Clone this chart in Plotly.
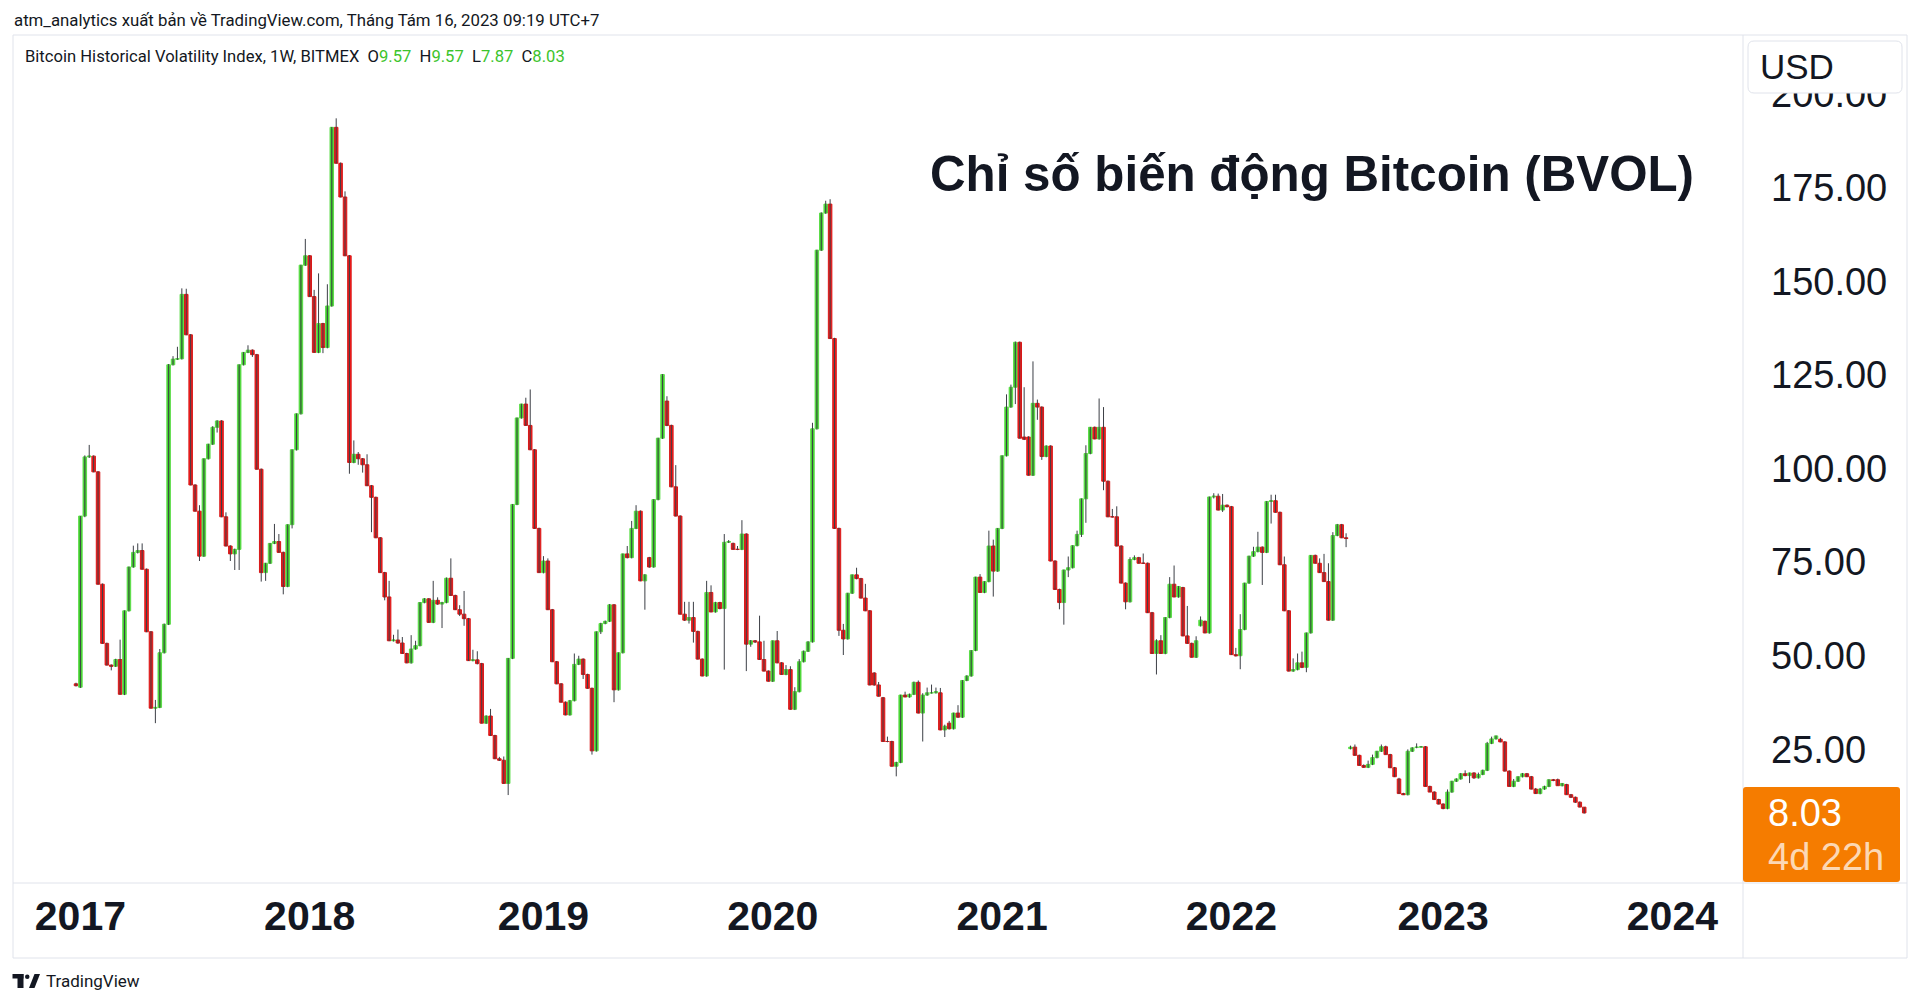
import pandas as pd
import plotly.graph_objects as go

# ---------------- data (weekly BVOL candles) ----------------
open_ = [
    42.5, 41.6, 87.3, 103.1, 103.3, 99.1, 69.1, 53.3, 47.5, 47.2,
    49.0, 39.7, 62.0, 73.7, 77.6, 78.1, 73.1, 56.4, 36.0, 36.2,
    50.8, 58.4, 127.7, 129.2, 129.3, 146.5, 135.7, 95.6, 88.6, 76.6,
    102.6, 106.5, 111.0, 112.7, 87.1, 79.3, 77.2, 78.4, 127.7, 131.0,
    131.6, 130.4, 99.8, 72.2, 74.7, 80.0, 80.5, 77.6, 68.5, 85.0,
    105.0, 114.6, 154.3, 156.8, 145.9, 131.0, 138.7, 132.3, 143.4, 191.1,
    181.5, 172.5, 156.8, 101.6, 103.8, 102.6, 101.0, 95.4, 92.3, 81.5,
    72.2, 65.7, 54.0, 54.2, 53.4, 50.6, 48.1, 51.8, 52.7, 64.2,
    65.2, 58.9, 64.8, 63.8, 64.2, 70.7, 66.1, 62.3, 61.1, 59.9,
    48.7, 48.9, 47.9, 32.0, 33.9, 28.7, 22.5, 22.1, 15.9, 49.3,
    90.4, 113.5, 117.2, 111.5, 105.0, 84.0, 72.2, 75.3, 62.3, 48.4,
    42.5, 37.6, 34.2, 38.0, 47.7, 49.1, 45.0, 41.3, 24.6, 56.4,
    58.6, 59.2, 63.6, 40.9, 50.8, 77.2, 76.2, 84.0, 88.6, 70.0,
    76.2, 73.7, 91.7, 108.1, 118.0, 111.5, 95.1, 87.3, 61.1, 59.5,
    60.2, 56.5, 49.1, 44.6, 66.9, 61.7, 64.2, 62.6, 80.3, 80.0,
    78.4, 78.4, 82.5, 53.1, 54.0, 53.7, 49.0, 45.9, 43.2, 54.0,
    48.1, 45.0, 46.3, 35.7, 40.4, 48.4, 51.2, 53.7, 110.6, 158.3,
    168.2, 170.6, 134.7, 84.0, 56.8, 54.5, 66.7, 71.6, 70.6, 65.4,
    62.0, 45.4, 42.2, 38.8, 27.1, 27.1, 20.5, 21.5, 39.5, 39.0,
    39.7, 42.9, 34.7, 39.5, 40.1, 40.1, 40.1, 30.2, 32.0, 30.5,
    34.7, 33.6, 43.4, 44.6, 51.4, 71.0, 66.9, 69.8, 79.3, 72.6,
    84.0, 103.4, 116.4, 121.7, 133.7, 108.4, 108.4, 98.2, 117.4, 116.4,
    103.2, 106.0, 75.3, 67.7, 64.2, 72.9, 73.5, 79.4, 82.4, 91.9,
    104.0, 111.0, 107.9, 111.0, 96.6, 87.1, 87.1, 79.3, 69.4, 64.4,
    75.7, 76.2, 74.7, 74.7, 61.5, 50.6, 54.0, 50.6, 60.2, 69.1,
    65.7, 68.2, 55.3, 53.3, 49.6, 58.0, 59.2, 56.1, 92.4, 92.6,
    88.9, 90.2, 89.8, 50.3, 50.0, 57.0, 69.4, 76.6, 77.8, 79.0,
    77.6, 91.2, 91.4, 88.3, 74.3, 62.0, 45.9, 46.3, 48.1, 46.9,
    56.1, 76.8, 74.7, 72.2, 69.8, 59.5, 82.1, 85.0, 81.5, 25.2,
    25.6, 23.4, 20.7, 20.2, 21.0, 22.8, 24.5, 25.7, 23.6, 20.1,
    17.1, 13.2, 12.9, 24.5, 25.5, 25.6, 25.7, 15.1, 13.6, 11.6,
    10.4, 9.2, 13.6, 16.5, 17.1, 18.5, 18.0, 18.7, 17.4, 18.3,
    19.4, 26.6, 27.8, 27.7, 27.0, 19.2, 15.1, 16.5, 17.7, 18.5,
    17.7, 14.4, 13.2, 14.4, 15.1, 16.9, 16.9, 15.3, 15.6, 12.9,
    12.2, 10.9, 9.57,
]
high = [
    42.8, 87.3, 103.5, 106.3, 103.5, 99.3, 69.3, 53.5, 47.7, 49.2,
    54.3, 62.1, 73.8, 79.4, 80.0, 80.0, 73.3, 56.6, 38.2, 51.8,
    58.6, 127.9, 130.0, 132.5, 148.1, 148.0, 135.9, 95.8, 90.2, 102.7,
    106.6, 111.3, 112.9, 112.9, 88.3, 79.5, 78.6, 127.8, 131.1, 132.9,
    131.8, 130.6, 100.0, 74.8, 80.1, 85.2, 82.5, 77.8, 85.1, 105.1,
    114.7, 154.4, 161.3, 157.0, 147.7, 152.1, 138.9, 149.2, 191.2, 193.5,
    181.7, 174.0, 157.0, 107.5, 104.4, 102.8, 103.8, 95.6, 92.5, 81.7,
    72.4, 70.0, 55.6, 57.0, 55.0, 50.8, 55.5, 54.0, 64.3, 65.4,
    65.4, 70.0, 65.6, 64.4, 70.9, 76.0, 66.3, 63.5, 67.3, 60.1,
    51.6, 51.2, 48.1, 34.1, 35.8, 28.9, 23.0, 23.1, 49.4, 90.5,
    113.6, 117.3, 118.9, 121.1, 105.2, 84.2, 76.6, 76.0, 62.5, 48.6,
    42.7, 37.8, 38.2, 50.6, 50.0, 49.3, 45.2, 41.5, 56.5, 58.8,
    59.4, 63.8, 63.8, 50.9, 77.3, 79.3, 86.0, 90.2, 88.8, 71.8,
    76.4, 91.8, 108.2, 125.2, 119.3, 111.7, 100.9, 87.5, 64.4, 64.4,
    64.4, 56.7, 49.3, 70.0, 68.8, 64.4, 64.4, 82.5, 80.9, 80.2,
    79.3, 86.2, 82.7, 54.2, 54.2, 60.7, 54.0, 46.1, 54.1, 56.6,
    48.3, 47.5, 47.2, 41.6, 49.1, 51.4, 53.9, 112.2, 158.4, 168.4,
    171.5, 171.9, 134.9, 84.2, 58.5, 66.8, 71.7, 73.5, 70.8, 69.2,
    62.2, 45.6, 43.0, 39.0, 28.4, 27.3, 21.7, 39.6, 40.4, 39.9,
    43.1, 43.4, 40.0, 41.5, 42.3, 41.5, 41.4, 31.6, 32.6, 34.8,
    36.8, 43.5, 44.8, 51.5, 71.1, 71.8, 69.9, 83.4, 81.0, 84.1,
    103.5, 119.8, 122.4, 133.9, 133.9, 121.7, 108.6, 128.6, 118.4, 116.6,
    106.2, 106.2, 75.5, 67.9, 73.0, 76.5, 79.5, 83.4, 92.0, 106.2,
    111.1, 111.2, 118.7, 116.4, 96.8, 89.2, 89.9, 79.5, 69.6, 76.3,
    76.8, 76.4, 77.3, 74.9, 61.7, 54.4, 55.5, 60.3, 71.0, 74.1,
    68.6, 68.4, 63.3, 53.5, 55.2, 60.5, 59.4, 92.5, 93.4, 93.3,
    93.2, 90.4, 90.0, 52.1, 61.1, 69.5, 76.7, 79.1, 83.1, 79.2,
    91.3, 93.0, 93.0, 88.5, 76.5, 62.2, 49.3, 50.6, 51.1, 56.2,
    76.9, 77.0, 76.0, 77.2, 74.7, 83.0, 85.2, 85.2, 82.7, 26.0,
    26.3, 23.6, 21.0, 22.0, 23.6, 24.6, 26.3, 26.0, 23.8, 20.3,
    17.4, 13.4, 25.0, 25.6, 26.6, 25.9, 25.9, 15.3, 13.8, 11.8,
    10.6, 14.3, 16.6, 17.3, 18.7, 19.4, 18.8, 18.9, 18.8, 19.6,
    27.0, 28.4, 28.7, 28.1, 27.2, 19.4, 17.1, 17.8, 18.7, 18.7,
    17.9, 14.7, 14.7, 15.3, 17.0, 17.1, 17.2, 16.0, 15.8, 13.1,
    12.4, 11.1, 9.57,
]
low = [
    41.8, 41.4, 87.0, 102.8, 99.0, 69.0, 53.2, 47.4, 46.1, 47.0,
    39.6, 39.5, 61.8, 73.5, 77.3, 73.0, 56.3, 35.9, 32.0, 36.0,
    50.6, 58.2, 127.5, 129.0, 129.1, 135.6, 95.5, 88.5, 75.3, 76.4,
    102.4, 106.3, 109.6, 87.0, 79.2, 75.3, 72.9, 72.9, 127.5, 130.8,
    129.8, 99.7, 69.8, 70.0, 74.5, 79.8, 77.5, 66.4, 68.3, 84.0,
    104.8, 114.4, 154.1, 145.8, 130.9, 130.8, 130.8, 132.1, 143.2, 181.4,
    172.4, 156.7, 98.6, 101.4, 101.0, 98.9, 95.3, 83.0, 81.4, 72.1,
    64.8, 53.9, 53.8, 53.2, 50.5, 48.0, 47.9, 51.6, 52.5, 64.0,
    58.8, 58.7, 63.6, 57.4, 64.0, 66.0, 62.2, 60.6, 58.0, 48.6,
    48.5, 47.7, 31.9, 31.8, 28.6, 22.4, 21.9, 15.8, 12.8, 49.1,
    90.2, 113.3, 111.4, 104.9, 83.9, 72.1, 72.0, 62.2, 48.3, 42.4,
    37.5, 34.1, 34.0, 37.8, 47.5, 43.8, 41.2, 23.6, 24.4, 55.8,
    58.4, 59.0, 37.6, 40.7, 50.6, 76.0, 76.0, 83.8, 69.9, 62.3,
    73.5, 73.5, 91.5, 107.9, 111.3, 95.0, 87.2, 61.0, 59.3, 58.6,
    53.5, 49.0, 44.5, 44.4, 61.6, 61.5, 62.4, 46.3, 80.1, 78.3,
    78.2, 78.2, 45.9, 52.4, 53.4, 48.9, 45.8, 43.1, 43.0, 48.0,
    44.9, 44.8, 35.6, 35.5, 40.2, 48.2, 51.0, 53.5, 110.4, 158.1,
    168.0, 134.6, 83.9, 55.3, 50.2, 54.3, 66.5, 70.4, 65.3, 61.9,
    42.1, 42.0, 39.1, 27.0, 26.9, 20.4, 17.8, 21.3, 38.9, 38.8,
    39.5, 34.6, 27.1, 39.3, 39.9, 39.9, 30.1, 28.3, 30.3, 30.3,
    33.4, 33.4, 43.2, 44.4, 51.2, 66.8, 66.7, 69.6, 65.8, 72.4,
    83.8, 103.2, 116.2, 117.2, 108.0, 107.6, 98.1, 98.0, 113.0, 102.3,
    103.0, 75.2, 67.6, 62.4, 58.3, 71.0, 73.3, 79.2, 81.7, 85.5,
    103.8, 107.8, 107.7, 94.2, 87.0, 86.9, 79.2, 69.3, 62.4, 64.2,
    75.5, 74.6, 74.5, 61.4, 50.5, 45.0, 50.5, 50.4, 60.0, 65.6,
    65.5, 55.2, 53.2, 49.5, 49.4, 57.8, 56.0, 55.9, 92.0, 88.8,
    88.4, 89.6, 50.2, 49.8, 46.4, 56.8, 69.2, 76.4, 77.6, 68.9,
    77.4, 85.3, 88.2, 74.2, 61.9, 45.8, 45.7, 46.1, 46.7, 45.6,
    55.9, 74.6, 72.1, 69.7, 59.4, 59.3, 81.9, 81.4, 79.0, 25.0,
    23.3, 20.7, 20.1, 20.0, 20.8, 22.6, 24.3, 23.6, 20.0, 17.6,
    13.1, 12.8, 12.7, 24.3, 25.3, 25.5, 15.1, 13.6, 11.5, 10.3,
    9.0, 9.0, 13.4, 16.3, 16.9, 17.8, 16.0, 17.1, 17.2, 18.1,
    19.2, 26.4, 27.6, 26.9, 19.1, 15.1, 14.9, 16.3, 17.5, 17.6,
    14.3, 13.1, 13.0, 14.2, 14.9, 16.5, 15.3, 15.1, 12.9, 12.0,
    10.7, 9.5, 7.87,
]
close = [
    42.0, 87.3, 103.1, 103.3, 99.1, 69.1, 53.3, 47.5, 47.2, 49.0,
    39.7, 62.0, 73.7, 77.6, 78.1, 73.1, 56.4, 36.0, 36.2, 50.8,
    58.4, 127.7, 129.2, 129.3, 146.5, 135.7, 95.6, 88.6, 76.6, 102.6,
    106.5, 111.0, 112.7, 87.1, 79.3, 77.2, 78.4, 127.7, 131.0, 131.6,
    130.4, 99.8, 72.2, 74.7, 80.0, 80.5, 77.6, 68.5, 85.0, 105.0,
    114.6, 154.3, 156.8, 145.9, 131.0, 138.7, 132.3, 143.4, 191.1, 181.5,
    172.5, 156.8, 101.6, 103.8, 102.6, 101.0, 95.4, 92.3, 81.5, 72.2,
    65.7, 54.0, 54.2, 53.4, 50.6, 48.1, 51.8, 52.7, 64.2, 65.2,
    58.9, 64.8, 63.8, 64.2, 70.7, 66.1, 62.3, 61.1, 59.9, 48.7,
    48.9, 47.9, 32.0, 33.9, 28.7, 22.5, 22.1, 15.9, 49.3, 90.4,
    113.5, 117.2, 111.5, 105.0, 84.0, 72.2, 75.3, 62.3, 48.4, 42.5,
    37.6, 34.2, 38.0, 47.7, 49.1, 45.0, 41.3, 24.6, 56.4, 58.6,
    59.2, 63.6, 40.9, 50.8, 77.2, 76.2, 84.0, 88.6, 70.0, 71.6,
    73.7, 91.7, 108.1, 125.1, 111.5, 95.1, 87.3, 61.1, 59.5, 60.2,
    56.5, 49.1, 44.6, 66.9, 61.7, 64.2, 62.6, 80.3, 80.5, 78.4,
    78.4, 82.5, 53.1, 54.0, 53.7, 49.0, 45.9, 43.2, 54.0, 48.1,
    45.0, 46.3, 35.7, 40.4, 48.4, 51.2, 53.7, 110.6, 158.3, 168.2,
    170.6, 134.7, 84.0, 56.8, 54.5, 66.7, 71.6, 70.6, 65.4, 62.0,
    42.2, 42.2, 39.2, 27.1, 27.1, 20.5, 21.5, 39.5, 39.0, 39.7,
    42.9, 34.7, 39.5, 40.1, 40.1, 40.4, 30.2, 31.2, 30.5, 34.7,
    33.6, 43.4, 44.6, 51.4, 71.0, 66.9, 69.8, 79.3, 72.6, 84.0,
    103.4, 116.4, 121.7, 133.7, 108.1, 107.8, 98.2, 117.4, 116.4, 103.2,
    106.0, 75.3, 67.7, 64.2, 72.9, 73.5, 79.4, 82.4, 91.9, 104.0,
    111.0, 107.9, 111.0, 96.6, 87.1, 87.1, 79.3, 69.4, 64.4, 75.7,
    76.2, 74.7, 74.7, 61.5, 50.6, 54.0, 50.6, 60.2, 69.1, 65.7,
    68.5, 55.3, 53.3, 49.6, 54.0, 59.5, 56.1, 92.4, 92.6, 88.9,
    90.2, 89.8, 50.3, 50.0, 57.0, 69.4, 76.6, 77.8, 79.0, 77.6,
    91.2, 91.4, 88.3, 74.3, 62.0, 45.9, 46.3, 48.1, 46.9, 56.1,
    76.8, 74.7, 72.2, 69.8, 59.5, 82.1, 85.0, 81.5, 81.3, 25.6,
    23.4, 20.7, 20.2, 21.0, 22.8, 24.5, 25.7, 23.6, 20.1, 17.7,
    13.2, 12.9, 24.5, 25.4, 25.6, 25.7, 15.1, 13.6, 11.6, 10.4,
    9.2, 13.6, 16.5, 17.1, 18.5, 18.0, 18.7, 17.4, 18.3, 19.4,
    26.6, 27.8, 28.6, 27.0, 19.2, 15.1, 16.5, 17.7, 18.5, 17.7,
    14.4, 13.2, 14.4, 15.1, 16.9, 16.7, 15.3, 15.9, 12.9, 12.2,
    10.9, 9.6, 8.03,
]

year_tick_bars = [1, 53, 106, 158, 210, 262, 310, 362]
year_labels = ["2017", "2018", "2019", "2020", "2021", "2022", "2023", "2024"]
price_ticks = [25, 50, 75, 100, 125, 150, 175, 200]

assert len(open_) == len(high) == len(low) == len(close) == 343

# week dates (weekly bars; 4 weeks missing in July 2022)
week_dates = (list(pd.date_range("2016-12-26", periods=289, freq="7D"))
              + list(pd.date_range("2022-08-08", periods=54, freq="7D")))
bar_index = list(range(len(close)))
date_text = [d.strftime("%Y-%m-%d") for d in week_dates]

# ---------------- geometry / styling ----------------
OFF = 8                                   # page body margin of the html page
W, H = 1920 - OFF, 1004 - OFF
# plot area, expressed in reference-picture pixels
RL, RR, RT, RB = 14, 1743, 35, 883
PL, PR, PT, PB = RL - OFF, RR - OFF, RT - OFF, RB - OFF

UP, UP_EDGE = "#42d22d", "#5cdc49"
DOWN, DOWN_EDGE = "#f21c1c", "#d81818"
WICK = "#3c3f46"
TXT = "#131722"
BORDER = "#e0e3eb"


def px(x):
    """reference x pixel -> paper"""
    return (x - RL) / (RR - RL)


def py(y):
    """reference y pixel -> paper"""
    return (RB - y) / (RB - RT)


fig = go.Figure()

# wicks
wx, wy = [], []
for i, (h, l) in enumerate(zip(high, low)):
    wx += [i, i, None]
    wy += [l, h, None]
fig.add_trace(go.Scatter(x=wx, y=wy, mode="lines", line=dict(color=WICK, width=1),
                         hoverinfo="skip", showlegend=False))

# bodies
fig.add_trace(go.Candlestick(
    x=bar_index, open=open_, close=close,
    high=[max(o, c) for o, c in zip(open_, close)],
    low=[min(o, c) for o, c in zip(open_, close)],
    text=date_text,
    increasing=dict(fillcolor=UP, line=dict(color=UP_EDGE, width=1)),
    decreasing=dict(fillcolor=DOWN, line=dict(color=DOWN_EDGE, width=1)),
    whiskerwidth=0, showlegend=False,
))

x_range = [-(76 - RL) / 4.41, (RR - 76) / 4.41]
y_range = [(843 - RB) / 3.745, (843 - RT) / 3.745]

fig.update_layout(
    width=W, height=H,
    margin=dict(l=PL, r=W - PR, t=PT, b=H - PB, autoexpand=False),
    paper_bgcolor="white", plot_bgcolor="white",
    showlegend=False, hovermode=False,
    boxgap=0.2, boxgroupgap=0.0,
    xaxis=dict(range=x_range, tickmode="array", tickvals=year_tick_bars, ticktext=year_labels,
               showgrid=False, zeroline=False, showline=False, ticks="",
               tickfont=dict(family="Liberation Sans", size=41, color=TXT, weight="bold"),
               ticklabelstandoff=5, rangeslider=dict(visible=False), fixedrange=True),
    yaxis=dict(range=y_range, side="right", tickmode="array", tickvals=price_ticks,
               tickformat=".2f", showgrid=False, zeroline=False, showline=False, ticks="",
               tickfont=dict(family="Liberation Sans", size=38, color=TXT),
               ticklabelstandoff=27, fixedrange=True),
)


def rrect(x0, y0, x1, y1, r):
    """Rounded rectangle path (paper coords) from reference pixel corners."""
    rx, ry = r / (RR - RL), r / (RB - RT)
    X0, X1, Y0, Y1 = px(x0), px(x1), py(y0), py(y1)   # Y0 top, Y1 bottom
    return (f"M {X0+rx},{Y0} L {X1-rx},{Y0} Q {X1},{Y0} {X1},{Y0-ry} "
            f"L {X1},{Y1+ry} Q {X1},{Y1} {X1-rx},{Y1} L {X0+rx},{Y1} "
            f"Q {X0},{Y1} {X0},{Y1+ry} L {X0},{Y0-ry} Q {X0},{Y0} {X0+rx},{Y0} Z")


shapes = [
    dict(type="rect", xref="paper", yref="paper", x0=px(13), x1=px(1907), y0=py(958), y1=py(35),
         line=dict(color=BORDER, width=1), layer="below"),
    dict(type="line", xref="paper", yref="paper", x0=px(RR), x1=px(RR), y0=py(958), y1=py(35),
         line=dict(color=BORDER, width=1)),
    dict(type="line", xref="paper", yref="paper", x0=px(13), x1=px(1907), y0=py(RB), y1=py(RB),
         line=dict(color=BORDER, width=1)),
    # USD box
    dict(type="path", xref="paper", yref="paper", path=rrect(1748, 41, 1902, 93, 6),
         fillcolor="white", line=dict(color=BORDER, width=1), layer="above"),
    # last price label
    dict(type="path", xref="paper", yref="paper", path=rrect(1743, 787, 1900, 882, 3),
         fillcolor="#f57c00", line=dict(width=0), layer="above"),
    # TradingView logo
    dict(type="rect", xref="paper", yref="paper", x0=px(12.5), x1=px(23.5), y0=py(978.5), y1=py(974),
         fillcolor=TXT, line=dict(width=0), layer="above"),
    dict(type="rect", xref="paper", yref="paper", x0=px(17.5), x1=px(23.5), y0=py(988), y1=py(974),
         fillcolor=TXT, line=dict(width=0), layer="above"),
    dict(type="circle", xref="paper", yref="paper", x0=px(25), x1=px(29.5), y0=py(979), y1=py(974.5),
         fillcolor=TXT, line=dict(width=0), layer="above"),
    dict(type="path", xref="paper", yref="paper",
         path=f"M {px(29)},{py(988)} L {px(34.5)},{py(988)} L {px(40)},{py(974)} L {px(34.5)},{py(974)} Z",
         fillcolor=TXT, line=dict(width=0), layer="above"),
]
fig.update_layout(shapes=shapes)

GREEN_TXT = "#3cc42c"
legend_txt = (
    "Bitcoin Historical Volatility Index, 1W, BITMEX&nbsp;&nbsp;"
    f"O<span style='color:{GREEN_TXT}'>9.57</span>&nbsp;&nbsp;"
    f"H<span style='color:{GREEN_TXT}'>9.57</span>&nbsp;&nbsp;"
    f"L<span style='color:{GREEN_TXT}'>7.87</span>&nbsp;&nbsp;"
    f"C<span style='color:{GREEN_TXT}'>8.03</span>"
)

annotations = [
    dict(text="atm_analytics xuất bản về TradingView.com, Tháng Tám 16, 2023 09:19 UTC+7",
         x=px(12), y=py(20), xanchor="left", yanchor="middle",
         font=dict(family="Roboto", size=16.8, color=TXT)),
    dict(text=legend_txt, x=px(23), y=py(56), xanchor="left", yanchor="middle",
         font=dict(family="Roboto", size=16.6, color=TXT)),
    dict(text="<b>Chỉ số biến động Bitcoin (BVOL)</b>", x=px(1696), y=py(173),
         xanchor="right", yanchor="middle",
         font=dict(family="Liberation Sans", size=49.3, color=TXT)),
    dict(text="USD", x=px(1758), y=py(67), xanchor="left", yanchor="middle",
         font=dict(family="Liberation Sans", size=35, color=TXT)),
    dict(text="8.03", x=px(1766), y=py(813), xanchor="left", yanchor="middle",
         font=dict(family="Liberation Sans", size=38, color="white")),
    dict(text="4d 22h", x=px(1766), y=py(857), xanchor="left", yanchor="middle",
         font=dict(family="Liberation Sans", size=38, color="#fcd8b4")),
    dict(text="TradingView", x=px(44), y=py(981), xanchor="left", yanchor="middle",
         font=dict(family="Roboto", size=17, color=TXT)),
]
for a in annotations:
    a.update(xref="paper", yref="paper", showarrow=False)
fig.update_layout(annotations=annotations)

fig.write_html("out.html")
